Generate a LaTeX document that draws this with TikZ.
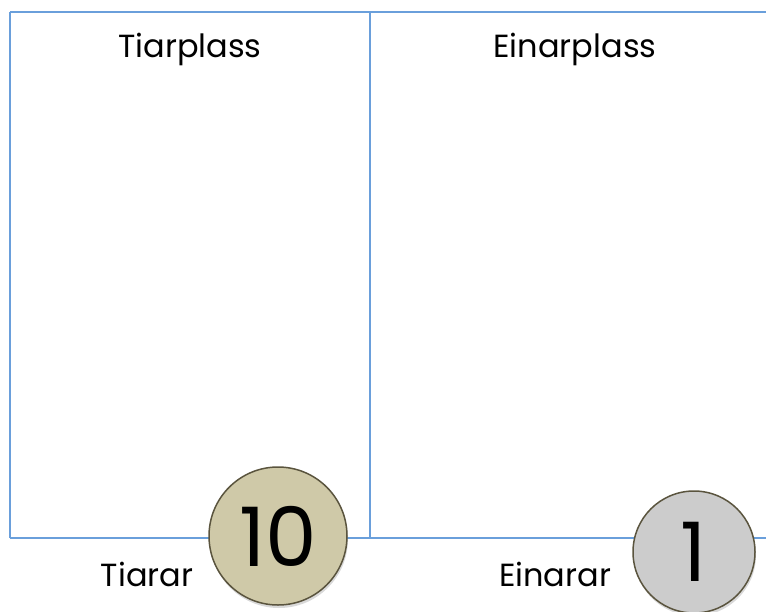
\documentclass[tikz,border=0pt]{standalone}
\usepackage{fontspec}
\setmainfont{Poppins}
\usetikzlibrary{shadows}
\definecolor{frameblue}{HTML}{6A9FDB}
\definecolor{tiarfill}{HTML}{CFC9A8}
\definecolor{einarfill}{HTML}{CCCCCC}
\definecolor{rimcol}{HTML}{5A543E}
\begin{document}
\begin{tikzpicture}[x=1pt,y=-1pt,semithick]
		\tikzstyle{frame}=[draw=frameblue,line width=1.5pt]
		\tikzstyle{head}=[font=\fontsize{32}{32}\selectfont,text=black]
		\tikzstyle{coin}=[circle,draw=rimcol,line width=1.5pt,inner sep=0pt,
			font=\fontsize{82}{82}\selectfont,
			drop shadow={shadow xshift=1pt,shadow yshift=-3pt,opacity=0.3}]
		\useasboundingbox (0,0) rectangle (766,611);
		
		\coordinate (tl) at (10,12);
		\coordinate (tr) at (780,12);
		\coordinate (bl) at (10,538);
		\coordinate (br) at (780,538);
		\coordinate (mt) at (370,12);
		\coordinate (mb) at (370,538);
		\path[frame]
		(bl) edge (tl)
		(tl) edge (tr)
		(bl) edge (br)
		(mt) edge (mb);
		
		\node[head] (tiarplass) at (190,49) {Tiarplass};
		\node[head] (einarplass) at (575,49) {Einarplass};
		\node[head] (tiarar) at (147,574) {Tiarar};
		\node[head] (einarar) at (555,574) {Einarar};
		
		\node[coin,fill=tiarfill,minimum size=138pt] (ti) at (278,536) {10};
		\node[coin,fill=einarfill,minimum size=122pt] (ein) at (694,552) {1};
\end{tikzpicture}
\end{document}
